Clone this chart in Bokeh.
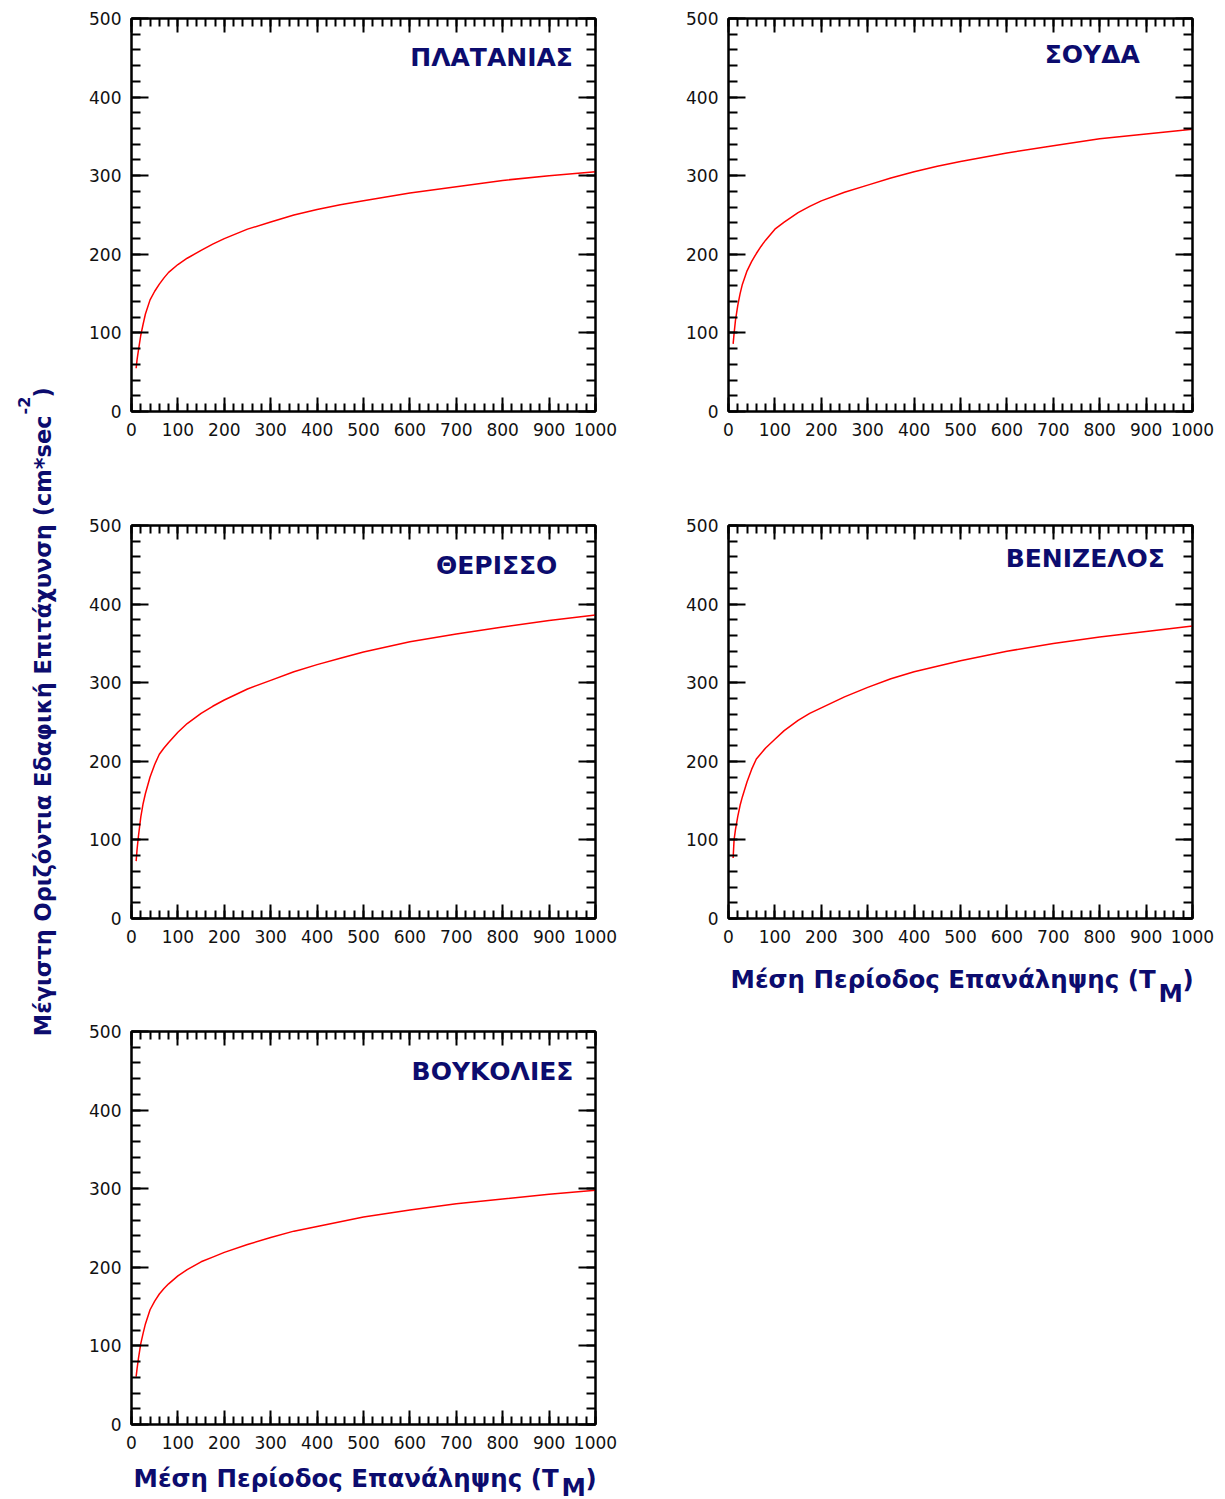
import numpy as np
from bokeh.plotting import figure
from bokeh.layouts import row, column
from bokeh.models import Range1d, LinearAxis, FixedTicker, Label, CustomJSTickFormatter
from bokeh.embed import file_html
from bokeh.resources import INLINE
from bokeh.core.properties import value

# ---------------- data ----------------
return_period = [10, 12, 15, 20, 25, 30, 40, 50, 60, 70, 80, 100, 120, 150, 175, 200,
                 250, 300, 350, 400, 450, 500, 600, 700, 800, 900, 1000]
pga_platanias = [55, 66, 78, 97, 111, 124, 142, 153, 162, 170, 177, 187, 195, 205, 213, 220,
                 232, 241, 250, 257, 263, 268, 278, 286, 294, 300, 305]
pga_souda = [86, 99, 116, 135, 150, 162, 179, 191, 201, 210, 218, 232, 241, 253, 261, 268,
             279, 288, 297, 305, 312, 318, 329, 338, 347, 353, 359]
pga_therisso = [73, 88, 105, 129, 146, 159, 180, 196, 209, 217, 224, 237, 248, 261, 270, 278,
                292, 303, 314, 323, 331, 339, 352, 362, 371, 379, 386]
pga_venizelos = [77, 100, 113, 130, 144, 155, 174, 190, 203, 210, 217, 228, 239, 252, 261, 268,
                 282, 294, 305, 314, 321, 328, 340, 350, 358, 365, 372]
pga_voukolies = [61, 71, 84, 103, 116, 128, 146, 157, 166, 173, 179, 189, 197, 207, 213, 219,
                 229, 238, 246, 252, 258, 264, 273, 281, 287, 293, 298]
station_names = ["ΠΛΑΤΑΝΙΑΣ", "ΣΟΥΔΑ", "ΘΕΡΙΣΣΟ", "ΒΕΝΙΖΕΛΟΣ", "ΒΟΥΚΟΛΙΕΣ"]
x_tick_values = [0, 100, 200, 300, 400, 500, 600, 700, 800, 900, 1000]
y_tick_values = [0, 100, 200, 300, 400, 500]
x_label_text = "Μέση Περίοδος Επανάληψης (T"
x_label_sub = "M"
y_label_text = "Μέγιστη Οριζόντια Εδαφική Επιτάχυνση (cm*sec"
y_label_sup = "-2"

# ---------------- style ----------------
NAVY = "#0c0c6e"
TICK_FONT = "DejaVu Sans"
BOLD_FONT = "DejaVu Sans"
x_minor = list(range(0, 1001, 20))
y_minor = list(range(0, 501, 20))


def style_axis(ax, is_x, show_labels):
    ax.ticker = FixedTicker(ticks=x_tick_values if is_x else y_tick_values,
                            minor_ticks=x_minor if is_x else y_minor)
    ax.axis_line_width = 2
    ax.axis_line_color = "black"
    ax.major_tick_line_color = "black"
    ax.minor_tick_line_color = "black"
    ax.major_tick_line_width = 2
    ax.minor_tick_line_width = 2
    ax.major_tick_in = 14 if is_x else 17
    ax.major_tick_out = 0
    ax.minor_tick_in = 8 if is_x else 9
    ax.minor_tick_out = 0
    if show_labels:
        ax.major_label_text_font = TICK_FONT
        ax.major_label_text_font_size = "17px"
        ax.major_label_text_color = "#111111"
        ax.major_label_standoff = 11 if is_x else 10
    else:
        ax.formatter = CustomJSTickFormatter(code="return ''")
        ax.major_label_text_font_size = "0px"
        ax.major_label_standoff = 0


def make_panel(name, yvals, width, height, left, right, top, bottom, lx, ly):
    p = figure(width=width, height=height, x_range=Range1d(0, 1000), y_range=Range1d(0, 500),
               output_backend="svg", toolbar_location=None,
               min_border_left=left, min_border_right=right,
               min_border_top=top, min_border_bottom=bottom)
    p.grid.visible = False
    p.outline_line_color = "black"
    p.outline_line_width = 2
    p.add_layout(LinearAxis(), "right")
    p.add_layout(LinearAxis(), "above")
    style_axis(p.below[0], True, True)
    style_axis(p.left[0], False, True)
    style_axis(p.right[0], False, False)
    style_axis(p.above[0], True, False)
    p.line(return_period, yvals, line_color="red", line_width=1.5)
    p.add_layout(Label(x=lx, y=ly, text=name, text_align="center", text_baseline="middle",
                       text_font=BOLD_FONT, text_font_style="bold", text_font_size="25px",
                       text_color=NAVY))
    return p


def text_fig(width, height, x0, x1):
    # x range given in page pixels of the frame (the column aligns this frame with the panel's)
    f = figure(width=width, height=height,
               x_range=Range1d(x0, x1), y_range=Range1d(0, height),
               output_backend="svg", toolbar_location=None, x_axis_type=None, y_axis_type=None,
               min_border_left=0, min_border_right=0, min_border_top=0, min_border_bottom=0)
    f.grid.visible = False
    f.outline_line_color = None
    return f


p1 = make_panel(station_names[0], pga_platanias, 565, 470, 71, 30, 18, 59, 776, 450)
p2 = make_panel(station_names[1], pga_souda, 600, 470, 103, 33, 18, 59, 784, 454)
p3 = make_panel(station_names[2], pga_therisso, 565, 510, 71, 30, 55, 62, 787, 449)
p4 = make_panel(station_names[3], pga_venizelos, 600, 485, 103, 33, 55, 37, 769, 458)
p5 = make_panel(station_names[4], pga_voukolies, 565, 480, 71, 30, 51, 36, 778, 449)

lbl_kw = dict(text_font=value(BOLD_FONT), text_font_style="bold", text_color=NAVY)
XFS = "24.5px"

# x-axis title under panel 4 (canvas page y 955..1015; frame page x 728..1192)
H4 = 60
xl4 = text_fig(600, H4, 728, 1192)
xl4.text(x=[730], y=[H4 - 24], text=[x_label_text], text_align="left",
         text_baseline="alphabetic", text_font_size=XFS, **lbl_kw)
xl4.text(x=[1158], y=[H4 - 38], text=[x_label_sub], text_align="left",
         text_baseline="alphabetic", text_font_size=XFS, **lbl_kw)
xl4.text(x=[1182], y=[H4 - 24], text=[")"], text_align="left",
         text_baseline="alphabetic", text_font_size=XFS, **lbl_kw)

# x-axis title under panel 5 (canvas page y 1460..1499; frame page x 131..595)
H5 = 39
xl5 = text_fig(565, H5, 131, 595)
xl5.text(x=[133], y=[H5 - 18], text=[x_label_text], text_align="left",
         text_baseline="alphabetic", text_font_size=XFS, **lbl_kw)
xl5.text(x=[561], y=[H5 - 27], text=[x_label_sub], text_align="left",
         text_baseline="alphabetic", text_font_size=XFS, **lbl_kw)
xl5.text(x=[585], y=[H5 - 18], text=[")"], text_align="left",
         text_baseline="alphabetic", text_font_size=XFS, **lbl_kw)

# y-axis title (canvas x 0..60, full height)
yl = text_fig(60, 1499, 0, 60)
yl.text(x=[42], y=[1499 - 415], text=[y_label_text], angle=np.pi / 2, text_align="right",
        text_baseline="middle", text_font_size="22.5px", **lbl_kw)
yl.text(x=[23], y=[1499 - 414], text=[y_label_sup], angle=np.pi / 2, text_align="left",
        text_baseline="middle", text_font_size="16px", **lbl_kw)
yl.text(x=[42], y=[1499 - 397], text=[")"], angle=np.pi / 2, text_align="left",
        text_baseline="middle", text_font_size="22.5px", **lbl_kw)

layout = row(yl, column(p1, p3, p5, xl5), column(p2, p4, xl4))

open("out.html", "w").write(file_html(layout, INLINE))
